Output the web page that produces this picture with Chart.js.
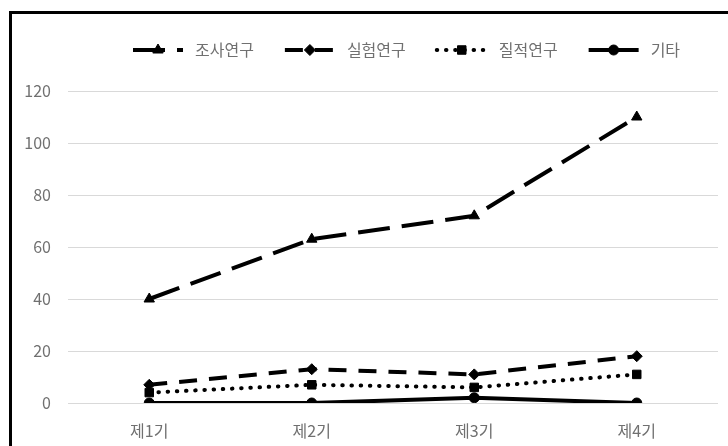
<!DOCTYPE html>
<html>
<head>
<meta charset="utf-8">
<script src="https://cdn.jsdelivr.net/npm/chart.js@4/dist/chart.umd.min.js"></script>
<style>
	html, body { margin: 0; padding: 0; background: #fff; overflow: hidden; }
	#wrap { position: relative; width: 728px; height: 446px; }
	#frame { position: absolute; left: 9px; top: 11px; width: 800px; height: 600px; border: 3px solid #000; box-sizing: border-box; pointer-events: none; }
	#period_graph_canvas { position: absolute; left: 0; top: 0; }
</style>
</head>
<body>
<div id="wrap">
	<canvas id="period_graph_canvas" width="728" height="446"></canvas>
	<div id="frame"></div>
</div>
<script>
var periods = ["제1기", "제2기", "제3기", "제4기"];
var survey_data = [40, 63, 72, 110];
var experiment_data = [7, 13, 11, 18];
var qualitative_data = [4, 7, 6, 11];
var etc_data = [0, 0, 2, 0];
var y_ticks = [0, 20, 40, 60, 80, 100, 120];

var font_family = "'Noto Sans CJK KR', 'Noto Sans', sans-serif";
var text_color = "#707070";

// legend drawn by hand: dashed line sample + marker + label, laid out left to right
var legend_plugin = {
	id: 'lineLegend',
	afterDraw: function(chart){
		var ctx = chart.ctx;
		var x = 133, y = 50;
		var sample_w = 50, text_gap = 12, item_gap = 31;
		ctx.save();
		ctx.font = "16px " + font_family;
		ctx.textBaseline = "middle";
		chart.data.datasets.forEach(function(ds){
			ctx.save();
			ctx.strokeStyle = ds.borderColor;
			ctx.lineWidth = ds.borderWidth;
			ctx.lineCap = ds.borderCapStyle || 'butt';
			ctx.setLineDash(ds.borderDash || []);
			ctx.beginPath();
			ctx.moveTo(x, y);
			ctx.lineTo(x + sample_w, y);
			ctx.stroke();
			ctx.restore();
			ctx.fillStyle = "#000";
			ctx.strokeStyle = "#000";
			ctx.lineWidth = 1;
			Chart.helpers.drawPoint(ctx, {
				pointStyle: ds.pointStyle,
				radius: ds.pointRadius,
				rotation: 0,
				borderWidth: 1
			}, x + sample_w / 2, y);
			ctx.fillStyle = text_color;
			ctx.fillText(ds.label, x + sample_w + text_gap, y);
			x += sample_w + text_gap + ctx.measureText(ds.label).width + item_gap;
		});
		ctx.restore();
	}
};

function series(label, data, dash, cap, style, radius){
	return {
		label: label,
		data: data,
		borderColor: "#000",
		backgroundColor: "#000",
		borderWidth: 4,
		borderDash: dash,
		borderCapStyle: cap,
		pointStyle: style,
		pointRadius: radius,
		pointHoverRadius: radius,
		pointBackgroundColor: "#000",
		pointBorderColor: "#000",
		pointBorderWidth: 1,
		tension: 0
	};
}

var period_chart = new Chart(document.getElementById("period_graph_canvas"), {
	type: 'line',
	data: {
		labels: periods,
		datasets: [
			series("조사연구", survey_data, [32, 12], 'butt', 'triangle', 6),
			series("실험연구", experiment_data, [18, 12], 'butt', 'rectRot', 5.5),
			series("질적연구", qualitative_data, [0.5, 8.7], 'round', 'rect', 6),
			series("기타", etc_data, [], 'butt', 'circle', 5)
		]
	},
	options: {
		responsive: false,
		animation: false,
		layout: { padding: { top: 91, right: 10, bottom: 0, left: 0 } },
		plugins: {
			legend: { display: false },
			tooltip: { enabled: false }
		},
		scales: {
			x: {
				offset: true,
				grid: { display: false },
				border: { display: false },
				ticks: { color: text_color, padding: 10, font: { family: font_family, size: 16 } },
				afterFit: function(scale){ scale.height = 43; }
			},
			y: {
				min: 0,
				max: 120,
				afterBuildTicks: function(scale){
					scale.ticks = y_ticks.map(function(v){ return { value: v }; });
				},
				grid: { color: "#d9d9d9", lineWidth: 1, drawTicks: false },
				border: { display: false },
				ticks: { color: text_color, padding: 17, font: { family: font_family, size: 16 } },
				afterFit: function(scale){ scale.width = 68; }
			}
		}
	},
	plugins: [legend_plugin]
});
</script>
</body>
</html>
